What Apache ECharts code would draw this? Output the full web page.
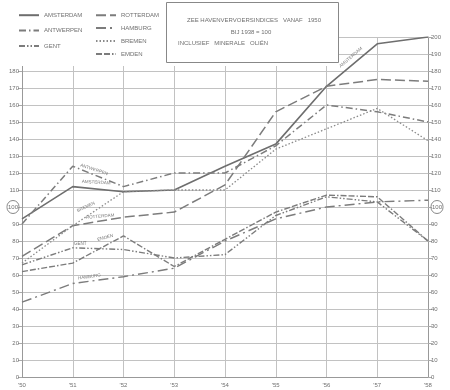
<!DOCTYPE html>
<html><head><meta charset="utf-8">
<script src="https://cdn.jsdelivr.net/npm/echarts@6/dist/echarts.min.js"></script>
<style>html,body{margin:0;padding:0;background:#fff}#c{width:450px;height:390px}</style>
</head><body><div id="c"></div>
<script>
const years = [1950, 1951, 1952, 1953, 1954, 1955, 1956, 1957, 1958];
const yearLabels = ["'50", "'51", "'52", "'53", "'54", "'55", "'56", "'57", "'58"];
const amsterdam = [93, 112, 109, 110, 124, 137, 171, 196, 200];
const rotterdam = [71, 89, 94, 97, 113, 156, 171, 175, 174];
const antwerpen = [90, 124, 112, 120, 120, 136, 160, 156, 150];
const hamburg   = [44, 55, 59, 64, 80, 93, 100, 103, 104];
const gent      = [66, 76, 75, 70, 72, 95, 106, 103, 80];
const bremen    = [67, 89, 109, 110, 110, 134, 146, 158, 139];
const emden     = [62, 67, 83, 65, 81, 97, 107, 106, 80];
const titleLines = ['ZEE HAVENVERVOERSINDICES   VANAF   1950', 'BIJ 1938 = 100', 'INCLUSIEF   MINERALE   OLIËN'];

const FONT = 'Liberation Sans';
const LC = '#7c7c7c';
const TXT = '#707070';
function pts(arr){ return years.map((y,i)=>[y, arr[i]]); }
function tag(coord, name, rot){ return {coord: coord, name: name, label: {rotate: rot}}; }
function mk(list){
  return {symbol:'circle', symbolSize:1, silent:true, itemStyle:{color:'rgba(0,0,0,0)'},
    label:{show:true, position:'inside', formatter:'{b}', fontSize:4.5, color:'#777', fontFamily:FONT},
    data:list};
}
function ser(name, arr, type, width, color, marks){
  return {name:name, type:'line', data:pts(arr), symbol:'none', z:3,
    lineStyle:{type:type, width:width, color:color}, itemStyle:{color:color},
    markPoint: marks ? mk(marks) : undefined, animation:false};
}
const chart = echarts.init(document.getElementById('c'), null, {renderer:'canvas'});
const circ = {c:{borderColor:'#888', borderWidth:1, borderRadius:9, padding:[4,1,3,1], fontSize:6, color:TXT, fontFamily:FONT}};
const legendCommon = {orient:'vertical', itemWidth:20, itemHeight:8, z:10, selectedMode:false,
  itemStyle:{opacity:0, borderWidth:0},
  textStyle:{fontSize:6, color:TXT, fontFamily:FONT}};
chart.setOption({
  animation:false,
  backgroundColor:'#fff',
  textStyle:{fontFamily:FONT},
  grid:{left:22, right:22, top:37, bottom:13},
  legend:[
    Object.assign({data:['AMSTERDAM','ANTWERPEN','GENT'], left:13, top:7, itemGap:9}, legendCommon),
    Object.assign({data:['ROTTERDAM','HAMBURG','BREMEN','EMDEN'], left:90, top:7, itemGap:6.5}, legendCommon)
  ],
  xAxis:{type:'value', min:1950, max:1958, interval:1,
    axisLine:{lineStyle:{color:'#999'}}, axisTick:{show:false},
    axisLabel:{fontSize:6, color:TXT, margin:5, formatter:v=>yearLabels[years.indexOf(v)]},
    splitLine:{show:true, lineStyle:{color:'#c2c2c2', width:1}}},
  yAxis:[
    {type:'value', position:'left', min:0, max:200, interval:10,
     axisLine:{show:true, lineStyle:{color:'#999'}}, axisTick:{show:true, length:4, lineStyle:{color:'#aaa'}},
     axisLabel:{fontSize:6, color:TXT, margin:3, formatter:v=> v===100 ? '{c|100}' : String(v), rich:circ},
     splitLine:{show:true, lineStyle:{color:'#c2c2c2', width:1}}},
    {type:'value', position:'right', min:0, max:200, interval:10,
     axisLine:{show:true, lineStyle:{color:'#999'}}, axisTick:{show:true, length:4, lineStyle:{color:'#aaa'}},
     axisLabel:{fontSize:6, color:TXT, margin:3, formatter:v=> v===100 ? '{c|100}' : String(v), rich:circ},
     splitLine:{show:false}}
  ],
  graphic:{elements:[
    {type:'rect', left:0, top:0, z:5, shape:{width:337, height:66}, style:{fill:'#fff'}},
    {type:'rect', left:166, top:2, z:6, shape:{width:172, height:60}, style:{fill:'#fff', stroke:'#888', lineWidth:1}},
    {type:'text', x:254, y:20, z:7, style:{text:titleLines[0], fontSize:6, fill:TXT, align:'center', verticalAlign:'middle', fontFamily:FONT}},
    {type:'text', x:251, y:32, z:7, style:{text:titleLines[1], fontSize:6, fill:TXT, align:'center', verticalAlign:'middle', fontFamily:FONT}},
    {type:'text', x:223, y:43, z:7, style:{text:titleLines[2], fontSize:6, fill:TXT, align:'center', verticalAlign:'middle', fontFamily:FONT}}
  ]},
  series:[
    ser('AMSTERDAM', amsterdam, 'solid', 1.6, '#6e6e6e', [tag([1956.48,188],'AMSTERDAM',41), tag([1951.46,114.5],'AMSTERDAM',-3)]),
    ser('ANTWERPEN', antwerpen, [7,3,1.5,3], 1.5, LC, [tag([1951.42,122],'ANTWERPEN',-18)]),
    ser('GENT', gent, [6,2,1.5,2,1.5,2], 1.4, LC, [tag([1951.15,78.5],'GENT',0)]),
    ser('ROTTERDAM', rotterdam, [10,4], 1.5, LC, [tag([1951.54,94.5],'ROTTERDAM',5)]),
    ser('HAMBURG', hamburg, [10,4,2,4], 1.4, LC, [tag([1951.33,59],'HAMBURG',8)]),
    ser('BREMEN', bremen, [1.5,2], 1.3, '#8a8a8a', [tag([1951.26,100],'BREMEN',25)]),
    ser('EMDEN', emden, [6,2,6,2,1.5,2], 1.4, LC, [tag([1951.64,82],'EMDEN',15)])
  ]
});
</script></body></html>
